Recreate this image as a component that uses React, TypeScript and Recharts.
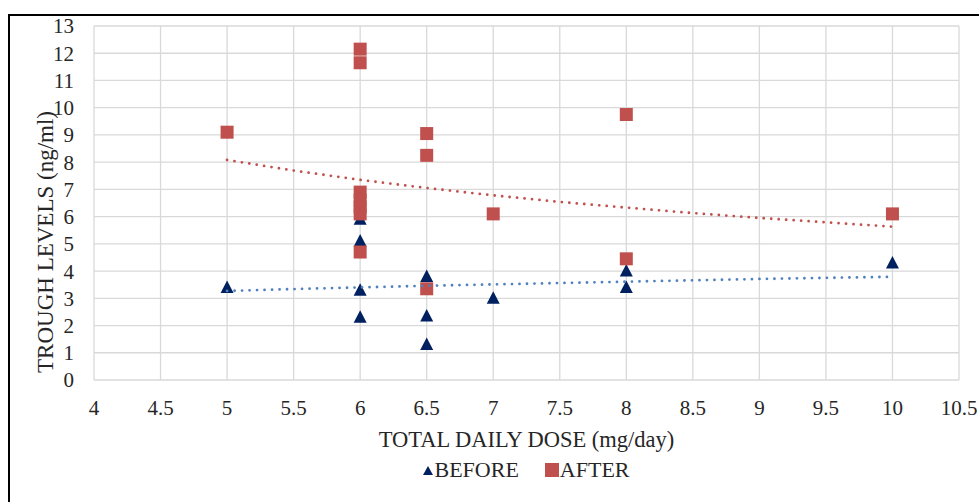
import React from 'react';
import {
    ScatterChart,
    Scatter,
    XAxis,
    YAxis,
    CartesianGrid,
    Legend,
} from 'recharts';

// dose (mg/day) and trough level (ng/ml) per patient
const beforeDose = [5, 6, 6, 6, 6, 6.5, 6.5, 6.5, 7, 8, 8, 10];
const beforeLevel = [3.4, 5.9, 5.1, 3.3, 2.3, 3.8, 2.35, 1.3, 3.0, 4.0, 3.4, 4.3];

const afterDose = [5, 6, 6, 6, 6, 6, 6, 6, 6.5, 6.5, 6.5, 7, 8, 8, 10];
const afterLevel = [9.1, 12.15, 11.65, 6.9, 6.6, 6.35, 6.1, 4.7, 9.05, 8.25, 3.35, 6.1, 9.75, 4.45, 6.1];

// trendlines
const trendDose = [5, 5.5, 6, 6.5, 7, 7.5, 8, 8.5, 9, 9.5, 10];
const afterTrend = [8.08, 7.69, 7.35, 7.05, 6.78, 6.54, 6.33, 6.13, 5.95, 5.79, 5.63];
const beforeTrend = [3.27, 3.34, 3.4, 3.46, 3.51, 3.56, 3.61, 3.66, 3.71, 3.75, 3.79];

const xTicks = [4, 4.5, 5, 5.5, 6, 6.5, 7, 7.5, 8, 8.5, 9, 9.5, 10, 10.5];
const yTicks = [0, 1, 2, 3, 4, 5, 6, 7, 8, 9, 10, 11, 12, 13];

const NAVY = '#002060';
const RED = '#C0504D';
const BLUE = '#4F81BD';
const TEXT = '#262626';
const FONT = '"Liberation Serif", "Times New Roman", serif';

const toPoints = (xs: number[], ys: number[]) => xs.map((x, i) => ({ x, y: ys[i] }));

const beforeData = toPoints(beforeDose, beforeLevel);
const afterData = toPoints(afterDose, afterLevel);
const afterTrendData = toPoints(trendDose, afterTrend);
const beforeTrendData = toPoints(trendDose, beforeTrend);

const Triangle = (props: any) => {
    const { cx, cy } = props;
    if (cx == null || cy == null) return null;
    return <polygon points={`${cx},${cy - 7} ${cx - 6.5},${cy + 5.5} ${cx + 6.5},${cy + 5.5}`} fill={NAVY} />;
};

const Square = (props: any) => {
    const { cx, cy } = props;
    if (cx == null || cy == null) return null;
    return <rect x={cx - 6.5} y={cy - 6.5} width={13} height={13} fill={RED} />;
};

const NoDot = () => null;

const renderLegend = () => (
    <div
        style={{
            display: 'flex',
            justifyContent: 'center',
            alignItems: 'center',
            fontFamily: FONT,
            fontSize: 22,
            color: TEXT,
            lineHeight: '28px',
        }}
    >
        <svg width={10} height={9} style={{ marginRight: 1 }}>
            <polygon points="5,0 0,9 10,9" fill={NAVY} />
        </svg>
        <span>BEFORE</span>
        <svg width={14} height={14} style={{ marginLeft: 26, marginRight: 1 }}>
            <rect width={14} height={14} fill={RED} />
        </svg>
        <span>AFTER</span>
    </div>
);

const renderYLabel = (props: any) => {
    const { viewBox } = props;
    const x = viewBox.x + 11;
    const y = 236;
    return (
        <text
            x={x}
            y={y}
            transform={`rotate(-90, ${x}, ${y})`}
            textAnchor="middle"
            dominantBaseline="central"
            fill={TEXT}
            fontSize={23}
            fontFamily={FONT}
        >
            TROUGH LEVELS (ng/ml)
        </text>
    );
};

export default function App() {
    return (
        <div style={{ position: 'relative', width: 979, height: 502, overflow: 'hidden', background: '#fff' }}>
            <style>{'body{margin:0;overflow:hidden}'}</style>
            <div
                style={{
                    position: 'absolute',
                    left: 8,
                    top: 14,
                    width: 971,
                    height: 488,
                    borderTop: '2px solid #000',
                    borderLeft: '2px solid #000',
                    boxSizing: 'border-box',
                }}
            />
            <div style={{ position: 'absolute', left: 10, top: 6 }}>
                <ScatterChart
                    width={969}
                    height={496}
                    margin={{ top: 20, right: 20, bottom: 18, left: 24 }}
                    style={{ fontFamily: FONT }}
                >
                    <CartesianGrid stroke="#D9D9D9" strokeWidth={1.3} />
                    <XAxis
                        type="number"
                        dataKey="x"
                        domain={[4, 10.5]}
                        ticks={xTicks}
                        interval={0}
                        allowDataOverflow
                        axisLine={false}
                        tickLine={false}
                        tickSize={0}
                        tickMargin={20}
                        height={76}
                        tick={{ fill: TEXT, fontSize: 21, fontFamily: FONT }}
                        label={{
                            value: 'TOTAL DAILY DOSE (mg/day)',
                            position: 'insideBottom',
                            offset: 9,
                            fill: TEXT,
                            fontSize: 22.5,
                            fontFamily: FONT,
                        }}
                    />
                    <YAxis
                        type="number"
                        dataKey="y"
                        domain={[0, 13]}
                        ticks={yTicks}
                        interval={0}
                        allowDataOverflow
                        axisLine={false}
                        tickLine={false}
                        tickSize={0}
                        tickMargin={20}
                        width={60}
                        tick={{ fill: TEXT, fontSize: 21, fontFamily: FONT }}
                        label={{ content: renderYLabel }}
                    />
                    <Legend
                        verticalAlign="bottom"
                        height={28}
                        content={renderLegend}
                        wrapperStyle={{ left: 84, width: 865 }}
                    />
                    <Scatter name="BEFORE" data={beforeData} shape={Triangle} isAnimationActive={false} />
                    <Scatter name="AFTER" data={afterData} shape={Square} isAnimationActive={false} />
                    <Scatter
                        name="AFTER trend"
                        data={afterTrendData}
                        shape={NoDot}
                        line={{ stroke: RED, strokeWidth: 2.8, strokeDasharray: '0 7.5', strokeLinecap: 'round' }}
                        lineType="joint"
                        legendType="none"
                        isAnimationActive={false}
                    />
                    <Scatter
                        name="BEFORE trend"
                        data={beforeTrendData}
                        shape={NoDot}
                        line={{ stroke: BLUE, strokeWidth: 2.8, strokeDasharray: '0 7.5', strokeLinecap: 'round' }}
                        lineType="joint"
                        legendType="none"
                        isAnimationActive={false}
                    />
                </ScatterChart>
            </div>
        </div>
    );
}
